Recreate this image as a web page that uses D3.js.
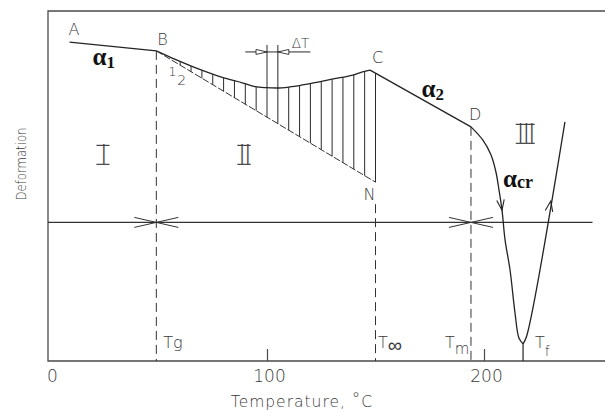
<!DOCTYPE html>
<html>
<head>
<meta charset="utf-8">
<script src="https://cdn.jsdelivr.net/npm/d3@7"></script>
<style>
  body { margin: 0; background: #fff; }
  svg { display: block; }
  text { font-family: "DejaVu Sans", sans-serif; font-weight: 200; fill: #3a3a3a; }
  .greek { font-family: "Liberation Serif", "DejaVu Serif", serif; font-weight: 700; fill: #111; }
  .roman { font-family: "DejaVu Sans", sans-serif; font-weight: 200; fill: #444; }
</style>
</head>
<body>
<svg id="chart" width="605" height="413"></svg>
<script>
// Temperature axis ticks (°C)
const xTicks = [0, 100, 200];

// Characteristic temperatures
const Tg = 49, Tinf = 150, Tm = 194, Tf = 218;

// A–B: glassy state, slope α1
const segABT = [9, 49];
const segABV = [91.1, 88.6];

// Curve 1: B–C, measured deformation in the transition zone
const curve1T = [49, 58, 69, 79, 89, 94.5, 99.5, 104.5, 110.5, 115, 123.5, 130.5, 139.5, 144, 147.5];
const curve1V = [88.6, 86.1, 83.3, 81.1, 79.4, 78.4, 78.1, 78.0, 78.3, 78.7, 79.7, 80.6, 81.7, 82.6, 83.1];

// C–D: slope α2
const segCDT = [147.5, 194];
const segCDV = [83.1, 66.9];

// Line 2: B–N, extrapolated glassy behaviour
const line2T = [49, 150];
const line2V = [88.6, 51.1];

// D down to the minimum near Tf, slope αcr
const dropT = [194, 199.5, 203.2, 205.5, 206.9, 208.3, 209.7, 212, 214.3, 216.1, 218];
const dropV = [66.9, 63.1, 58.9, 54.0, 48.9, 43.1, 34.6, 26, 13.7, 6.6, 4.9];

// Rising branch after the minimum
const riseT = [218, 219.6, 237.3];
const riseV = [4.9, 7, 68.3];

// Hatching temperatures (step ΔT)
const hatchT = [60, 65, 70, 75, 80, 85, 90, 95, 100, 105, 110, 115, 120, 125, 130, 135, 140, 145, 150];

// ΔT interval marker
const deltaT = [100, 105];
const deltaTopV = 90.3;
const deltaDimV = 88.3;
const deltaDimT = [90, 120];

// Horizontal reference level
const levelV = 39.6;
const levelT = [-1, 250];

// Direction arrows on the two branches (deformation level of each tip)
const arrowDropV = 43.1;
const arrowRiseV = 45.7;

// Region labels
const regionText = ["I", "II", "III"];
const regionT = [24.4, 89.4, 219];
const regionV = [58.9, 58.9, 64.9];

const svg = d3.select("#chart");
const x = d3.scaleLinear().domain([0, 200]).range([50, 484]);
const y = d3.scaleLinear().domain([0, 100]).range([361, 11]);
const frameLeft = 48, frameRight = 605;
const ink = "#232323";

const line = (curve) => d3.line().x(d => x(d[0])).y(d => y(d[1])).curve(curve);

// Frame: top, left and bottom edges
svg.append("path")
  .attr("d", `M${frameRight},${y(100)}H${frameLeft}V${y(0)}H${frameRight}`)
  .attr("fill", "none").attr("stroke", "#4a4a4a").attr("stroke-width", 1.3);

// Temperature axis
const axis = d3.axisBottom(x).tickValues(xTicks).tickSizeInner(-12).tickSizeOuter(0)
  .tickPadding(9).tickFormat(d3.format("d"));
const ax = svg.append("g").attr("transform", `translate(0,${y(0)})`).call(axis);
ax.attr("font-family", null).attr("font-size", null);
ax.select(".domain").remove();
ax.selectAll(".tick line").attr("stroke", "#4a4a4a").attr("stroke-width", 1.2);
ax.selectAll(".tick").filter(d => d === 0).select("line").remove();
ax.selectAll(".tick text").attr("font-size", 17).attr("fill", "#555").attr("dx", 2);

// Axis titles
const xt = svg.append("text").attr("x", 302).attr("y", 407).attr("text-anchor", "middle")
  .attr("font-size", 15.5).attr("letter-spacing", 1).text("Temperature, ");
xt.append("tspan").attr("font-size", 17).attr("dy", -2).text("°");
xt.append("tspan").attr("dy", 2).text("C");

svg.append("text").attr("transform", "translate(26,164) rotate(-90)")
  .attr("text-anchor", "middle").attr("font-size", 13.5)
  .attr("textLength", 73).attr("lengthAdjust", "spacingAndGlyphs")
  .text("Deformation");

// Horizontal reference level
svg.append("line")
  .attr("x1", Math.max(frameLeft, x(levelT[0]))).attr("x2", x(levelT[1]))
  .attr("y1", y(levelV)).attr("y2", y(levelV))
  .attr("stroke", "#333").attr("stroke-width", 1.1);

// Crossed markers where the level meets Tg and Tm
[Tg, Tm].forEach(t => {
  const cx = x(t), cy = y(levelV), hw = 22, hh = 5;
  svg.append("path")
    .attr("d", `M${cx - hw},${cy - hh}L${cx + hw},${cy + hh}M${cx - hw},${cy + hh}L${cx + hw},${cy - hh}`)
    .attr("stroke", "#333").attr("stroke-width", 1).attr("fill", "none");
});

// Vertical dashed lines at Tg, T∞ and Tm
const dash = "9,5";
svg.append("line").attr("x1", x(Tg)).attr("x2", x(Tg)).attr("y1", y(segABV[1])).attr("y2", y(0))
  .attr("stroke", "#333").attr("stroke-width", 1).attr("stroke-dasharray", dash);
svg.append("line").attr("x1", x(Tinf)).attr("x2", x(Tinf)).attr("y1", y(line2V[1]) + 22).attr("y2", y(0))
  .attr("stroke", "#333").attr("stroke-width", 1).attr("stroke-dasharray", dash);
svg.append("line").attr("x1", x(Tm)).attr("x2", x(Tm)).attr("y1", y(segCDV[1])).attr("y2", y(0))
  .attr("stroke", "#333").attr("stroke-width", 1).attr("stroke-dasharray", dash);

// Main curves
const mainStroke = (sel) => sel.attr("fill", "none").attr("stroke", ink).attr("stroke-width", 1.3)
  .attr("stroke-linejoin", "round");

svg.append("path").attr("d", line(d3.curveLinear)(d3.zip(segABT, segABV))).call(mainStroke);
const c1 = svg.append("path").attr("d", line(d3.curveMonotoneX)(d3.zip(curve1T, curve1V))).call(mainStroke);
svg.append("path").attr("d", line(d3.curveLinear)(d3.zip(segCDT, segCDV))).call(mainStroke);
svg.append("path").attr("d", line(d3.curveCatmullRom.alpha(0.5))(d3.zip(dropT, dropV))).call(mainStroke);
svg.append("path").attr("d", line(d3.curveCatmullRom.alpha(0.5))(d3.zip(riseT, riseV))).call(mainStroke);
// Stem down to Tf
svg.append("line").attr("x1", x(Tf)).attr("x2", x(Tf)).attr("y1", y(dropV[dropV.length - 1])).attr("y2", y(0))
  .attr("stroke", ink).attr("stroke-width", 1.2);

// Line 2 (B–N)
svg.append("path").attr("d", line(d3.curveLinear)(d3.zip(line2T, line2V)))
  .attr("fill", "none").attr("stroke", "#333").attr("stroke-width", 1).attr("stroke-dasharray", "7,2");

// Sample curve 1 so hatching can start exactly on it
const node = c1.node();
const total = node.getTotalLength();
const samples = [];
for (let s = 0; s <= total; s += 0.5) { const p = node.getPointAtLength(s); samples.push([p.x, p.y]); }
const cdScale = d3.scaleLinear().domain(segCDT).range(segCDV);
const lowerScale = d3.scaleLinear().domain(line2T).range(line2V);
function upperPx(t) {
  if (t >= segCDT[0]) return y(cdScale(t));
  const px = x(t);
  const i = d3.bisector(d => d[0]).left(samples, px);
  const a = samples[Math.max(0, i - 1)], b = samples[Math.min(samples.length - 1, i)];
  if (b[0] === a[0]) return a[1];
  return a[1] + (b[1] - a[1]) * (px - a[0]) / (b[0] - a[0]);
}

// Hatching between curve 1 and line 2
svg.append("g").selectAll("line").data(hatchT).join("line")
  .attr("x1", d => x(d)).attr("x2", d => x(d))
  .attr("y1", d => upperPx(d)).attr("y2", d => y(lowerScale(d)))
  .attr("stroke", "#2a2a2a").attr("stroke-width", 1);

// ΔT marker: two extended lines, dimension line and inward arrowheads
deltaT.forEach(t => {
  svg.append("line").attr("x1", x(t)).attr("x2", x(t)).attr("y1", y(deltaTopV)).attr("y2", upperPx(t))
    .attr("stroke", "#2a2a2a").attr("stroke-width", 1);
});
svg.append("line").attr("x1", x(deltaDimT[0])).attr("x2", x(deltaDimT[1]))
  .attr("y1", y(deltaDimV)).attr("y2", y(deltaDimV)).attr("stroke", "#2a2a2a").attr("stroke-width", 1);
{
  const dy = y(deltaDimV), a = x(deltaT[0]), b = x(deltaT[1]);
  svg.append("path").attr("d", `M${a},${dy}L${a - 11},${dy - 2.5}L${a - 11},${dy + 2.5}Z`)
    .attr("fill", "#fff").attr("stroke", "#2a2a2a").attr("stroke-width", 0.9);
  svg.append("path").attr("d", `M${b},${dy}L${b + 11},${dy - 2.5}L${b + 11},${dy + 2.5}Z`)
    .attr("fill", "#fff").attr("stroke", "#2a2a2a").attr("stroke-width", 0.9);
}

// Direction chevrons on the branches
function pointAtV(Ts, Vs, v) {
  for (let i = 0; i < Ts.length - 1; i++) {
    const v0 = Vs[i], v1 = Vs[i + 1];
    if ((v - v0) * (v - v1) <= 0 && v0 !== v1) {
      const f = (v - v0) / (v1 - v0);
      return { p: [Ts[i] + f * (Ts[i + 1] - Ts[i]), v], i };
    }
  }
  return null;
}
function chevron(Ts, Vs, v, goingDown) {
  const r = pointAtV(Ts, Vs, v);
  const i = r.i;
  const p0 = [x(Ts[i]), y(Vs[i])], p1 = [x(Ts[i + 1]), y(Vs[i + 1])];
  let dx = p1[0] - p0[0], dyv = p1[1] - p0[1];
  const len = Math.hypot(dx, dyv); dx /= len; dyv /= len;
  if ((goingDown && dyv < 0) || (!goingDown && dyv > 0)) { dx = -dx; dyv = -dyv; }
  const tip = [x(r.p[0]), y(r.p[1])];
  const armLen = 11, ang = 20 * Math.PI / 180;
  const arm = (s) => {
    const c = Math.cos(s * ang), sn = Math.sin(s * ang);
    const bx = -dx, by = -dyv;
    return [tip[0] + armLen * (bx * c - by * sn), tip[1] + armLen * (bx * sn + by * c)];
  };
  const l = arm(1), rr = arm(-1);
  svg.append("path").attr("d", `M${l[0]},${l[1]}L${tip[0]},${tip[1]}L${rr[0]},${rr[1]}`)
    .attr("fill", "none").attr("stroke", ink).attr("stroke-width", 1.1);
}
chevron(dropT, dropV, arrowDropV, true);
chevron(riseT, riseV, arrowRiseV, false);

// Point letters
const letter = (px, py, txt, anchor) => svg.append("text").attr("x", px).attr("y", py)
  .attr("font-size", 16).attr("text-anchor", anchor || "start").text(txt);
letter(x(segABT[0]) + 4.5, y(segABV[0]) - 7, "A", "middle");
letter(x(segABT[1]) + 1, y(segABV[1]) - 6, "B");
letter(x(segCDT[0]) + 2, y(segCDV[0]) - 7, "C");
letter(x(segCDT[1]) - 2, y(segCDV[1]) - 7, "D");
letter(x(line2T[1]), y(line2V[1]) + 18, "N", "end");

// Curve numbers
svg.append("text").attr("x", x(Tg) + 12).attr("y", y(segABV[1]) + 25).attr("font-size", 13).text("1");
svg.append("text").attr("x", x(Tg) + 21).attr("y", y(segABV[1]) + 34).attr("font-size", 14).text("2");

// ΔT label
svg.append("text").attr("x", x(deltaT[1]) + 14).attr("y", y(deltaDimV) - 4).attr("font-size", 13.5).text("ΔT");

// Slope labels
function alpha(px, py, sub, size, subSize, subDy) {
  const t = svg.append("text").attr("class", "greek").attr("x", px).attr("y", py).attr("font-size", size).text("α");
  t.append("tspan").attr("font-size", subSize).attr("dy", subDy).text(sub);
}
alpha(x(segABT[0]) + 23, y(segABV[0]) + 23, "1", 25, 17, 3);
alpha(x((segCDT[0] + segCDT[1]) / 2) + 1, y((segCDV[0] + segCDV[1]) / 2) - 2, "2", 25, 17, 3);
alpha(x(dropT[4]) + 4, y(dropV[4]) - 3, "cr", 25, 18, 1);

// Temperature markers near the axis
function tLabel(t, dxp, sub, subSize, subDy) {
  const tx = svg.append("text").attr("x", x(t) + dxp).attr("y", y(0) - 13).attr("font-size", 16).text("T");
  tx.append("tspan").attr("font-size", subSize).attr("dy", subDy).text(sub);
}
tLabel(Tg, 7, "g", 16, 0);
tLabel(Tinf, 2.5, "∞", 20, 4);
tLabel(Tm, -26, "m", 15, 6);
tLabel(Tf, 12, "f", 14, 8);

// Region numerals, with bars above and below
const romanSize = 26;
svg.append("g").selectAll("text").data(regionText).join("text")
  .attr("class", "roman")
  .attr("x", (d, i) => x(regionT[i])).attr("y", (d, i) => y(regionV[i]) + 0.365 * romanSize)
  .attr("text-anchor", "middle").attr("letter-spacing", -2)
  .attr("font-size", romanSize).text(d => d)
  .each(function (d, i) {
    const cx = x(regionT[i]);
    const base = y(regionV[i]) + 0.365 * romanSize;
    const top = base - 0.729 * romanSize;
    const w = this.getBBox().width;
    const half = Math.max(6.5, w / 2 + 1);
    [top, base].forEach(yy => {
      svg.append("line").attr("x1", cx - half).attr("x2", cx + half).attr("y1", yy).attr("y2", yy)
        .attr("stroke", "#444").attr("stroke-width", 1.2);
    });
  });
</script>
</body>
</html>
